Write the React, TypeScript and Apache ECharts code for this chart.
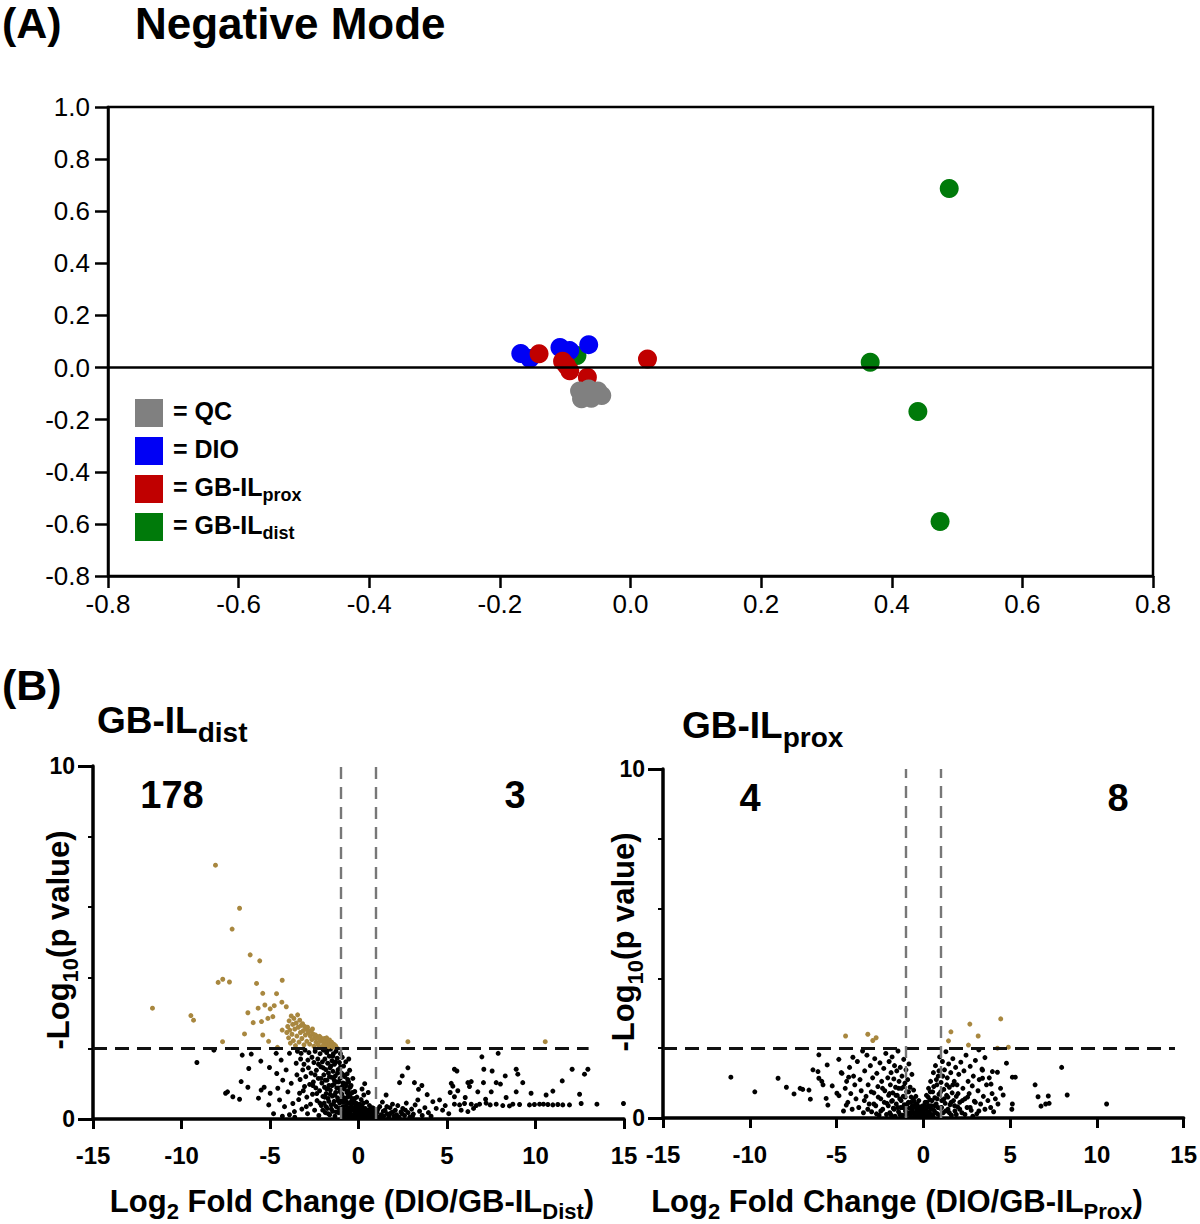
import React, { useEffect, useRef } from 'react';
import * as echarts from 'echarts';

const FONT = '"Liberation Sans", Arial, Helvetica, sans-serif';

// ---------- Panel A (Negative Mode) ----------
const qcPts = [[-0.078, -0.09], [-0.064, -0.082], [-0.05, -0.09], [-0.044, -0.107], [-0.075, -0.12], [-0.06, -0.118], [-0.068, -0.1]];
const dioPts = [[-0.168, 0.054], [-0.154, 0.035], [-0.108, 0.077], [-0.093, 0.065], [-0.064, 0.088]];
const proxPts = [[-0.14, 0.053], [-0.104, 0.024], [-0.098, 0.008], [-0.093, -0.012], [-0.066, -0.037], [0.026, 0.033]];
const distPts = [[0.488, 0.687], [0.367, 0.02], [0.44, -0.169], [0.474, -0.591], [-0.082, 0.046]];
const legendNames = ['QC', 'DIO', 'GB-IL', 'GB-IL'];
const legendSubs = ['', '', 'prox', 'dist'];
const legendColors = ['#808080', '#0000F5', '#C00000', '#007A0A'];

// ---------- Panel B left (DIO / GB-IL dist) ----------
const distGold = [
  [-8.08, 7.19], [-6.72, 5.97], [-7.14, 5.38], [-6.12, 4.65], [-5.58, 4.48], [-7.93, 3.87], [-7.67, 3.96], [-7.29, 3.88],
  [-5.76, 3.84], [-4.31, 3.93], [-11.64, 3.14], [-9.47, 2.93], [-9.32, 2.8], [-5.41, 3.56], [-4.63, 3.55], [-6.25, 3.01],
  [-5.67, 3.14], [-5.29, 3.23], [-4.99, 3.12], [-4.76, 3.21], [-4.33, 3.31], [-4.08, 3.18], [-5.95, 2.73], [-5.48, 2.76],
  [-5.12, 2.85], [-4.84, 2.9], [-6.44, 2.41], [-5.41, 2.38], [-5.08, 2.2], [-7.68, 2.19], [-4.31, 2.52], [-4.58, 2.03],
  [-4.05, 2.45], [-4.0, 2.62], [-3.95, 2.3], [-3.92, 2.78], [-3.88, 2.52], [-3.85, 2.15], [-3.8, 2.92], [-3.76, 2.4],
  [-3.72, 2.68], [-3.68, 2.22], [-3.65, 2.85], [-3.6, 2.55], [-3.56, 2.08], [-3.52, 2.72], [-3.48, 2.35], [-3.44, 2.95],
  [-3.4, 2.6], [-3.36, 2.18], [-3.32, 2.8], [-3.28, 2.45], [-3.24, 2.65], [-3.2, 2.28], [-3.16, 2.7], [-3.12, 2.5],
  [-3.08, 2.1], [-3.04, 2.62], [-3.0, 2.38], [-2.96, 2.55], [-2.92, 2.2], [-2.88, 2.6], [-2.84, 2.45], [-2.8, 2.5],
  [-2.76, 2.12], [-2.72, 2.35], [-2.68, 2.48], [-2.64, 2.25], [-2.6, 2.55], [-2.56, 2.4], [-2.52, 2.06], [-2.48, 2.3],
  [-2.44, 2.38], [-2.4, 2.18], [-2.36, 2.34], [-2.32, 2.3], [-2.28, 2.1], [-2.24, 2.28], [-2.2, 2.34], [-2.16, 2.2],
  [-2.12, 2.3], [-2.08, 2.05], [-2.04, 2.22], [-2.0, 2.25], [-1.96, 2.15], [-1.92, 2.28], [-1.88, 2.08], [-1.84, 2.22],
  [-1.8, 2.3], [-1.76, 2.12], [-1.72, 2.2], [-1.68, 2.05], [-1.64, 2.24], [-1.6, 2.15], [-1.56, 2.08], [-1.52, 2.18],
  [-1.48, 2.1], [-1.44, 2.04], [-1.4, 2.12], [-1.36, 2.06], [-1.3, 2.08], [-1.25, 2.03], [2.79, 2.19], [10.55, 2.19],
];
const distBlack = [
  [-9.13, 1.6], [-8.17, 1.95], [-7.51, 0.73], [-7.4, 0.77], [-7.1, 0.63], [-6.72, 0.56], [-6.63, 1.06], [-6.57, 1.81],
  [-6.2, 1.43], [-6.06, 1.84], [-6.25, 0.9], [-5.52, 1.64], [-5.5, 0.82], [-5.65, 0.59], [-5.33, 0.9], [-5.03, 1.46],
  [-4.99, 0.73], [-5.07, 0.4], [-4.65, 1.86], [-4.62, 1.29], [-4.56, 0.87], [-4.46, 0.54], [-4.37, 1.67], [-4.28, 1.1],
  [-4.18, 0.35], [-4.09, 1.39], [-3.99, 0.77], [-3.9, 1.86], [-3.8, 1.01], [-3.71, 0.44], [-3.62, 0.21], [-3.52, 1.58],
  [-3.48, 1.25], [-3.33, 0.73], [-3.24, 1.86], [-3.15, 1.39], [-3.05, 0.92], [-2.95, 0.35], [-2.86, 1.67],
  [-4.8, 0.15], [-4.3, 0.08], [-3.9, 0.12], [-3.6, 0.05],
  [-3.45, 1.92], [-3.38, 0.55], [-3.3, 1.12], [-3.27, 1.7], [-3.2, 0.28], [-3.12, 0.8], [-3.08, 1.55], [-3.02, 1.95],
  [-2.98, 1.2], [-2.92, 0.62], [-2.88, 0.15], [-2.83, 1.45], [-2.8, 1.88], [-2.76, 0.98], [-2.71, 0.42], [-2.68, 1.3],
  [-2.63, 1.75], [-2.6, 0.7], [-2.55, 1.05], [-2.52, 1.6], [-2.48, 0.25], [-2.45, 1.92], [-2.41, 0.88], [-2.38, 1.38],
  [-2.34, 0.52], [-2.3, 1.7], [-2.27, 1.15], [-2.24, 0.1], [-2.2, 0.8], [-2.17, 1.85], [-2.13, 1.48], [-2.1, 0.38],
  [-2.07, 1.02], [-2.04, 1.62], [-2.01, 0.64],
  [-1.98, 1.95], [-1.96, 1.25], [-1.94, 0.45], [-1.92, 0.9], [-1.9, 1.7], [-1.87, 0.18], [-1.85, 1.4], [-1.83, 0.72],
  [-1.8, 1.88], [-1.78, 1.1], [-1.76, 0.3], [-1.74, 1.58], [-1.72, 0.58], [-1.7, 1.3], [-1.67, 0.95], [-1.65, 1.78],
  [-1.63, 0.12], [-1.61, 1.45], [-1.59, 0.82], [-1.57, 1.98], [-1.55, 0.4], [-1.52, 1.18], [-1.5, 1.65], [-1.48, 0.65],
  [-1.46, 0.22], [-1.44, 1.35], [-1.42, 1.85], [-1.4, 0.98], [-1.38, 0.5], [-1.36, 1.55], [-1.33, 0.08], [-1.31, 1.22],
  [-1.29, 0.75], [-1.27, 1.92], [-1.25, 0.35], [-1.22, 1.05], [-1.2, 1.72], [-1.18, 0.6], [-1.15, 1.4], [-1.13, 0.18],
  [-1.1, 0.88], [-1.08, 1.6], [-1.06, 0.45], [-1.04, 1.15], [-1.02, 1.85],
  [-0.98, 0.3], [-0.96, 1.3], [-0.94, 0.7], [-0.92, 1.75], [-0.9, 0.05], [-0.88, 1.02], [-0.86, 0.48], [-0.84, 1.5],
  [-0.82, 0.2], [-0.8, 0.85], [-0.78, 1.2], [-0.76, 0.55], [-0.74, 0.1], [-0.72, 1.62], [-0.7, 0.38], [-0.68, 0.95],
  [-0.66, 0.15], [-0.64, 1.28], [-0.62, 0.62], [-0.6, 0.28], [-0.58, 0.8], [-0.56, 1.05], [-0.54, 0.05], [-0.52, 0.45],
  [-0.5, 1.38], [-0.48, 0.22], [-0.46, 0.7], [-0.44, 0.12], [-0.42, 0.95], [-0.4, 0.35], [-0.38, 0.58], [-0.35, 0.08],
  [-0.32, 1.15], [-0.3, 0.25], [-0.27, 0.5], [-0.24, 0.15], [-0.21, 0.78], [-0.18, 0.05], [-0.15, 0.4], [-0.12, 0.2],
  [-0.09, 0.62], [-0.06, 0.1], [-0.03, 0.3], [-0.01, 0.05], [-0.55, 1.7],
  [0.03, 0.18], [0.06, 0.42], [0.09, 0.06], [0.12, 0.28], [0.15, 0.55], [0.18, 0.12], [0.21, 0.35], [0.24, 0.04],
  [0.27, 0.22], [0.3, 0.68], [0.34, 0.1], [0.38, 0.3], [0.42, 0.15], [0.46, 0.48], [0.5, 0.06], [0.54, 0.25],
  [0.58, 0.12], [0.62, 0.38], [0.66, 0.05], [0.7, 0.2], [0.74, 0.1], [0.78, 0.32], [0.82, 0.04], [0.86, 0.16],
  [0.9, 0.08], [0.94, 0.26], [0.98, 0.12], [0.2, 0.85], [0.55, 0.75], [0.35, 1.0],
  [1.05, 0.2], [1.12, 0.05], [1.2, 0.35], [1.28, 0.12], [1.35, 0.48], [1.42, 0.08], [1.5, 0.25], [1.56, 0.68],
  [1.62, 0.15], [1.7, 0.05], [1.78, 0.32], [1.85, 0.18], [1.92, 0.42], [2.0, 0.08], [2.08, 0.25], [2.15, 0.12],
  [2.22, 0.38], [2.32, 1.03], [2.3, 0.05], [2.4, 0.2], [2.47, 1.22], [2.5, 0.3], [2.6, 0.1], [2.7, 0.45],
  [2.79, 1.45], [2.8, 0.18], [2.9, 0.06], [3.0, 0.28], [3.1, 0.14], [3.16, 1.03], [3.2, 0.4], [3.35, 0.54],
  [3.39, 0.84], [3.45, 0.22], [3.58, 0.95], [3.6, 0.1], [3.75, 0.32], [3.88, 0.69], [3.95, 0.18], [4.1, 0.08],
  [4.2, 0.49], [4.39, 0.3], [4.58, 0.54], [4.75, 0.25], [4.9, 0.38],
  [5.42, 1.41], [5.56, 1.36], [5.24, 1.01], [5.33, 0.93], [5.18, 0.75], [5.42, 0.63], [5.61, 0.8], [6.18, 0.21],
  [6.18, 1.03], [6.27, 0.92], [6.37, 1.06], [6.03, 0.61], [6.74, 0.77], [6.97, 1.76], [7.08, 1.41], [7.55, 1.36],
  [7.06, 1.03], [7.18, 0.56], [7.5, 0.77], [7.89, 1.86], [7.78, 1.03], [8.02, 0.99], [8.29, 1.22], [8.34, 0.61],
  [8.91, 1.41], [9.0, 1.27], [8.91, 0.77], [9.28, 1.03], [9.75, 0.73], [10.6, 0.68], [10.98, 0.79], [11.51, 1.08],
  [12.07, 1.41], [12.77, 1.27], [12.96, 1.41], [12.49, 0.7], [12.58, 0.44], [13.47, 0.42], [14.97, 0.44],
  [5.42, 0.42], [5.71, 0.4], [5.99, 0.44], [6.37, 0.42], [6.65, 0.38], [6.84, 0.42], [7.21, 0.45], [7.44, 0.4],
  [7.78, 0.42], [8.15, 0.38], [8.53, 0.37], [8.72, 0.42], [9.1, 0.41], [9.66, 0.4], [9.94, 0.41], [10.23, 0.42],
  [10.45, 0.42], [10.7, 0.41], [10.98, 0.4], [11.26, 0.41], [11.54, 0.4], [11.92, 0.4], [5.8, 0.25], [6.5, 0.3], [5.1, 0.15],
];
const distBlackCore = [
  [-2.58, 0.95], [-2.46, 1.25], [-2.36, 0.72], [-2.26, 1.55], [-2.18, 0.45], [-2.12, 1.15], [-2.02, 0.25], [-1.99, 1.45],
  [-1.91, 0.62], [-1.88, 1.1], [-1.84, 0.35], [-1.79, 0.85], [-1.75, 1.95], [-1.71, 0.15], [-1.68, 0.5], [-1.64, 1.2],
  [-1.6, 0.7], [-1.56, 1.5], [-1.53, 0.28], [-1.49, 0.95], [-1.45, 1.78], [-1.41, 0.42], [-1.37, 1.1], [-1.34, 0.68],
  [-1.3, 1.62], [-1.26, 0.2], [-1.23, 0.88], [-1.19, 1.3], [-1.16, 0.52], [-1.12, 1.05], [-1.09, 0.3], [-1.05, 0.78],
  [-1.01, 1.48], [-0.97, 0.55], [-0.95, 0.15], [-0.91, 0.92], [-0.87, 0.35], [-0.85, 1.25], [-0.81, 0.6], [-0.77, 0.25],
  [-0.75, 1.0], [-0.71, 0.5], [-0.69, 0.18], [-0.65, 0.75], [-0.61, 1.12], [-0.59, 0.45], [-0.57, 0.08], [-0.53, 0.65],
  [-0.49, 0.32], [-0.47, 0.9], [-0.43, 0.48], [-0.41, 0.1], [-0.37, 0.28], [-0.34, 0.75], [-0.31, 0.45], [-0.28, 0.05],
  [-0.25, 0.32], [-0.22, 0.58], [-0.19, 0.22], [-0.16, 0.1], [-0.13, 0.45], [-0.1, 0.3], [-0.07, 0.05], [-0.04, 0.18],
  [0.0, 0.4], [0.05, 0.1], [0.1, 0.22], [0.16, 0.35], [0.22, 0.1], [0.28, 0.45], [0.33, 0.2], [0.4, 0.05],
  [0.45, 0.25], [0.52, 0.15], [0.6, 0.08], [0.68, 0.28], [0.76, 0.18], [0.85, 0.3], [0.92, 0.05], [1.0, 0.15],
  [1.1, 0.28], [1.25, 0.06], [1.4, 0.22], [1.6, 0.35], [1.75, 0.12], [1.95, 0.2], [2.2, 0.05], [2.45, 0.15],
  [2.65, 0.25], [3.05, 0.08],
];

// ---------- Panel B right (DIO / GB-IL prox) ----------
const proxGold = [
  [-4.48, 2.35], [-3.2, 2.4], [-2.91, 2.22], [-2.72, 2.3],
  [1.59, 2.47], [1.45, 2.21], [2.68, 2.69], [3.16, 2.35], [2.6, 2.09], [4.46, 2.84], [4.27, 2.0], [4.9, 2.03],
];
const proxBlack = [
  [-11.09, 1.17], [-9.71, 0.75], [-8.37, 1.14], [-7.89, 0.88], [-7.45, 0.69], [-7.1, 0.85], [-6.95, 0.82], [-6.59, 0.8],
  [-6.51, 0.54], [-6.07, 1.33], [-6.02, 1.14], [-5.85, 1.05], [-5.78, 0.95], [-6.02, 1.81], [-5.54, 1.52], [-5.6, 0.56],
  [-5.5, 0.37], [-5.25, 0.92], [-4.98, 0.71], [-4.87, 1.68], [-4.73, 1.3], [-4.86, 0.64], [-4.44, 0.37], [-4.06, 1.74],
  [-4.3, 1.17], [-6.36, 1.38], [-4.69, 1.28],
  [7.97, 1.45], [6.44, 0.95], [6.61, 0.61], [7.2, 0.63], [6.78, 0.34], [7.05, 0.4], [7.25, 0.42], [8.29, 0.66],
  [10.56, 0.4], [5.13, 1.17], [5.3, 1.17], [4.79, 1.57], [5.13, 0.4], [5.1, 0.25], [4.6, 0.66], [4.27, 1.31],
  [3.98, 1.33], [3.9, 0.97], [3.55, 1.73], [3.2, 1.95], [3.41, 1.37], [3.41, 1.14],
  [-4.5, 0.85], [-4.42, 1.05], [-4.35, 0.45], [-4.25, 1.45], [-4.18, 0.7], [-4.1, 0.25], [-4.02, 1.2], [-3.95, 0.95],
  [-3.88, 0.55], [-3.8, 1.62], [-3.72, 0.3], [-3.65, 1.1], [-3.58, 0.78], [-3.5, 1.92], [-3.45, 0.15], [-3.38, 1.35],
  [-3.3, 0.62], [-3.25, 1.8], [-3.18, 0.95], [-3.12, 0.4], [-3.05, 1.5], [-2.98, 0.18], [-2.92, 1.15], [-2.85, 0.72],
  [-2.8, 1.7], [-2.74, 0.35], [-2.68, 1.28], [-2.62, 0.9], [-2.55, 0.08], [-2.5, 1.58], [-2.45, 0.55], [-2.4, 1.05],
  [-2.34, 0.25], [-2.28, 1.42], [-2.22, 0.78], [-2.16, 1.85], [-2.1, 0.42], [-2.05, 1.15], [-2.0, 0.65], [-4.6, 0.2],
  [-1.97, 1.62], [-1.93, 0.15], [-1.9, 0.95], [-1.86, 1.3], [-1.83, 0.48], [-1.8, 1.75], [-1.76, 0.72], [-1.73, 0.28],
  [-1.7, 1.12], [-1.66, 1.5], [-1.63, 0.05], [-1.6, 0.88], [-1.56, 0.4], [-1.53, 1.35], [-1.5, 0.65], [-1.46, 1.92],
  [-1.43, 0.18], [-1.4, 1.05], [-1.36, 0.55], [-1.33, 1.45], [-1.3, 0.3], [-1.26, 0.85], [-1.23, 1.2], [-1.2, 0.08],
  [-1.16, 0.62], [-1.13, 1.68], [-1.1, 0.38], [-1.06, 1.0], [-1.03, 0.2], [-1.0, 1.38], [-0.96, 0.75], [-0.93, 0.12],
  [-0.9, 1.1], [-0.86, 0.45], [-0.83, 1.55], [-0.8, 0.28], [-0.76, 0.88], [-0.73, 0.05], [-0.7, 0.6], [-0.66, 1.25],
  [-0.63, 0.35], [-0.6, 0.15], [-0.56, 0.8], [-0.53, 0.48], [-0.5, 0.08], [-0.46, 0.3], [-0.43, 0.62], [-0.4, 0.18],
  [-0.36, 0.4], [-0.33, 0.06], [-0.3, 0.25], [-0.26, 0.5], [-0.22, 0.12], [-0.18, 0.32], [-0.14, 0.05], [-0.1, 0.2],
  [-0.06, 0.1], [-0.02, 0.35],
  [0.02, 0.08], [0.06, 0.25], [0.1, 0.45], [0.14, 0.12], [0.18, 0.65], [0.22, 0.3], [0.26, 0.05], [0.3, 0.85],
  [0.34, 0.18], [0.38, 0.52], [0.42, 1.05], [0.46, 0.35], [0.5, 0.1], [0.54, 0.75], [0.58, 1.3], [0.62, 0.22],
  [0.66, 0.58], [0.7, 1.5], [0.74, 0.4], [0.78, 0.95], [0.82, 0.12], [0.86, 1.2], [0.9, 0.68], [0.94, 1.75],
  [0.98, 0.28], [1.02, 1.02], [1.06, 0.5], [1.1, 1.62], [1.14, 0.15], [1.18, 0.82], [1.22, 1.38], [1.26, 0.42],
  [1.3, 1.9], [1.34, 0.65], [1.38, 1.15], [1.42, 0.25], [1.46, 1.55], [1.5, 0.88], [1.54, 0.38], [1.58, 1.3],
  [1.62, 0.08], [1.66, 0.72], [1.7, 1.7], [1.74, 0.5], [1.78, 1.05], [1.82, 0.2], [1.86, 1.45], [1.9, 0.62],
  [1.94, 0.95], [1.98, 0.32],
  [2.04, 1.25], [2.1, 0.45], [2.16, 1.6], [2.22, 0.15], [2.28, 0.85], [2.34, 1.35], [2.4, 0.55], [2.46, 1.8],
  [2.52, 0.3], [2.58, 1.05], [2.64, 0.7], [2.7, 1.48], [2.76, 0.22], [2.82, 0.92], [2.88, 1.2], [2.94, 0.48],
  [3.0, 1.65], [3.08, 0.12], [3.15, 0.78], [3.22, 1.1], [3.3, 0.4], [3.38, 1.4], [3.46, 0.62], [3.55, 0.25],
  [3.64, 0.95], [3.72, 0.5], [3.8, 1.15], [3.88, 0.3], [3.96, 0.7], [4.05, 0.18], [4.15, 0.55], [4.3, 0.4], [4.45, 0.85],
];
const proxBlackCore = [
  [-3.4, 0.5], [-3.2, 0.25], [-3.0, 0.75], [-2.85, 0.4], [-2.7, 0.12], [-2.6, 0.6], [-2.45, 0.2], [-2.35, 0.85],
  [-2.25, 0.45], [-2.12, 0.1], [-2.02, 0.35], [-1.95, 0.7], [-1.85, 0.08], [-1.78, 0.5], [-1.68, 0.25], [-1.58, 0.65],
  [-1.48, 0.3], [-1.42, 0.85], [-1.35, 0.1], [-1.28, 0.5], [-1.18, 0.3], [-1.12, 0.9], [-1.05, 0.6], [-0.98, 0.1],
  [-0.92, 0.4], [-0.85, 0.75], [-0.78, 0.15], [-0.72, 0.45], [-0.65, 0.25], [-0.58, 0.55], [-0.52, 0.15], [-0.45, 0.4],
  [-0.38, 0.1], [-0.32, 0.3], [-0.25, 0.18], [-0.2, 0.05], [-0.15, 0.25], [-0.08, 0.15], [-0.04, 0.05], [0.0, 0.2],
  [0.04, 0.12], [0.08, 0.35], [0.12, 0.05], [0.16, 0.25], [0.2, 0.45], [0.24, 0.15], [0.28, 0.6], [0.32, 0.35],
  [0.36, 0.1], [0.4, 0.75], [0.45, 0.25], [0.5, 0.5], [0.55, 0.05], [0.6, 0.9], [0.65, 0.35], [0.7, 0.15],
  [0.75, 1.1], [0.8, 0.55], [0.85, 0.3], [0.9, 1.35], [0.95, 0.05], [1.0, 0.75], [1.05, 0.3], [1.12, 1.2],
  [1.2, 0.55], [1.28, 0.2], [1.35, 0.95], [1.42, 0.6], [1.5, 0.15], [1.6, 0.45], [1.7, 0.95], [1.8, 0.35],
  [1.9, 0.1], [2.0, 0.7], [2.1, 0.25], [2.25, 0.5], [2.4, 0.1], [2.55, 0.6], [2.7, 0.3], [2.85, 0.05],
  [3.0, 0.45], [3.2, 0.2],
];

const GOLD = '#A8873F';

const richStyle = (main: number, sub: number, drop: number) => ({
  m: { fontSize: main, fontWeight: 'bold', fontFamily: FONT, fill: '#000', verticalAlign: 'bottom', padding: [0, 0, drop, 0] },
  s: { fontSize: sub, fontWeight: 'bold', fontFamily: FONT, fill: '#000', verticalAlign: 'bottom' },
});
const richText = (x: number, y: number, parts: [string, boolean][], main: number, sub: number, drop: number, align: string, rotation = 0) => ({
  type: 'text', x, y, rotation, z: 100,
  style: {
    text: parts.map(([t, s]) => `{${s ? 's' : 'm'}|${t}}`).join(''),
    rich: richStyle(main, sub, drop), align, verticalAlign: 'middle',
  },
});
const plainText = (x: number, y: number, text: string, size: number, align = 'left') => ({
  type: 'text', x, y, z: 100,
  style: { text, fontSize: size, fontWeight: 'bold', fontFamily: FONT, fill: '#000', align, verticalAlign: 'middle' },
});

const axisBase = (w: number) => ({
  axisLine: { show: true, onZero: false, lineStyle: { color: '#000', width: w } },
  splitLine: { show: false },
});

function buildOption() {
  const fmt1 = (v: number) => (Math.abs(v) < 1e-9 ? '0.0' : v.toFixed(1));
  const labA = { color: '#000', fontSize: 26, fontFamily: FONT };
  const labB = { color: '#000', fontSize: 24, fontWeight: 'bold', fontFamily: FONT };

  const xAxis = [
    { type: 'value', gridIndex: 0, min: -0.8, max: 0.8, interval: 0.2, ...axisBase(2.5),
      axisTick: { length: 12, lineStyle: { color: '#000', width: 2.5 } },
      axisLabel: { ...labA, margin: 15, formatter: fmt1 } },
    ...[1, 2].map((g) => ({ type: 'value', gridIndex: g, min: -15, max: 15, interval: 5, ...axisBase(3.5),
      axisTick: { length: 10, lineStyle: { color: '#000', width: 3 } },
      axisLabel: { ...labB, margin: 24 } })),
  ];
  const yAxis = [
    { type: 'value', gridIndex: 0, min: -0.8, max: 1.0, interval: 0.2, ...axisBase(2.5),
      axisTick: { length: 13, lineStyle: { color: '#000', width: 2.5 } },
      axisLabel: { ...labA, margin: 18, formatter: fmt1 } },
    ...[1, 2].map((g) => ({ type: 'value', gridIndex: g, min: 0, max: 10, interval: 10, ...axisBase(3.5),
      axisTick: { length: 15, lineStyle: { color: '#000', width: 3 } },
      minorTick: { show: true, splitNumber: 5, length: 5, lineStyle: { color: '#000', width: 2 } },
      axisLabel: { color: '#000', fontSize: 23, fontWeight: 'bold', fontFamily: FONT, margin: 18 } })),
  ];

  const dashH = (g: number, xEnd: number) => ({
    type: 'scatter', xAxisIndex: g, yAxisIndex: g, data: [], z: 1,
    markLine: {
      silent: true, symbol: ['none', 'none'], label: { show: false }, animation: false,
      data: [
        [{ coord: [-15, 2], lineStyle: { color: '#111', width: 2.8, type: [14, 8] } }, { coord: [xEnd, 2] }],
        [{ coord: [-1, 0], lineStyle: { color: '#777', width: 2.4, type: [12, 8] } }, { coord: [-1, 10] }],
        [{ coord: [1, 0], lineStyle: { color: '#777', width: 2.4, type: [12, 8] } }, { coord: [1, 10] }],
      ],
    },
  });

  const dots = (g: number, data: number[][], color: string) => ({
    type: 'scatter', xAxisIndex: g, yAxisIndex: g, data, symbol: 'circle', symbolSize: 5, z: 2,
    itemStyle: { color, opacity: 1 }, silent: true,
  });
  const bigDots = (data: number[][], color: string, z: number) => ({
    type: 'scatter', xAxisIndex: 0, yAxisIndex: 0, data, symbol: 'circle', symbolSize: 19, z,
    itemStyle: { color, opacity: 1 }, silent: true,
  });

  const legendGraphics: any[] = [];
  const legY = [413, 451, 489, 527];
  legendNames.forEach((n, i) => {
    legendGraphics.push({ type: 'rect', shape: { x: 135, y: legY[i] - 14, width: 28, height: 28 }, style: { fill: legendColors[i] }, z: 100 });
    const parts: [string, boolean][] = [[`= ${n}`, false]];
    if (legendSubs[i]) parts.push([legendSubs[i], true]);
    legendGraphics.push(richText(173, legY[i], parts, 25, 18, 5, 'left'));
  });

  return {
    animation: false,
    backgroundColor: '#fff',
    grid: [
      { left: 108, top: 107, width: 1045, height: 469, show: true, borderColor: '#000', borderWidth: 2.5, backgroundColor: 'transparent' },
      { left: 93, top: 766, width: 531, height: 353 },
      { left: 663, top: 769, width: 522, height: 349 },
    ],
    xAxis, yAxis,
    series: [
      { type: 'scatter', xAxisIndex: 0, yAxisIndex: 0, data: [], z: 1,
        markLine: { silent: true, symbol: ['none', 'none'], label: { show: false },
          data: [[{ coord: [-0.8, 0], lineStyle: { color: '#000', width: 2.5, type: 'solid' } }, { coord: [0.8, 0] }]] } },
      bigDots(distPts, legendColors[3], 2),
      bigDots(dioPts, legendColors[1], 3),
      bigDots(proxPts, legendColors[2], 4),
      bigDots(qcPts, legendColors[0], 5),
      dashH(1, 13),
      dots(1, distBlack.concat(distBlackCore), '#000'),
      dots(1, distGold, GOLD),
      dashH(2, 14.5),
      dots(2, proxBlack.concat(proxBlackCore), '#000'),
      dots(2, proxGold, GOLD),
    ],
    graphic: [
      plainText(2, 23, '(A)', 43),
      plainText(135, 23, 'Negative Mode', 44),
      plainText(2, 685, '(B)', 43),
      richText(97, 724, [['GB-IL', false], ['dist', true]], 37, 28, 8, 'left'),
      richText(682, 729, [['GB-IL', false], ['prox', true]], 37, 28, 8, 'left'),
      plainText(172, 795, '178', 38, 'center'),
      plainText(515, 795, '3', 38, 'center'),
      plainText(750, 798, '4', 38, 'center'),
      plainText(1118, 798, '8', 38, 'center'),
      richText(62, 940, [['-Log', false], ['10', true], ['(p value)', false]], 31, 22, 7, 'center', Math.PI / 2),
      richText(627, 942, [['-Log', false], ['10', true], ['(p value)', false]], 31, 22, 7, 'center', Math.PI / 2),
      richText(352, 1204, [['Log', false], ['2', true], [' Fold Change (DIO/GB-IL', false], ['Dist', true], [')', false]], 31, 22, 6, 'center'),
      richText(897, 1204, [['Log', false], ['2', true], [' Fold Change (DIO/GB-IL', false], ['Prox', true], [')', false]], 31, 22, 6, 'center'),
      ...legendGraphics,
    ],
  };
}

export default function App() {
  const ref = useRef<HTMLDivElement>(null);
  useEffect(() => {
    if (!ref.current) return;
    const chart = echarts.init(ref.current, null, { renderer: 'svg' });
    chart.setOption(buildOption() as any);
    return () => chart.dispose();
  }, []);
  return <div ref={ref} style={{ position: 'absolute', left: 0, top: 0, width: 1200, height: 1224, background: '#fff' }} />;
}
